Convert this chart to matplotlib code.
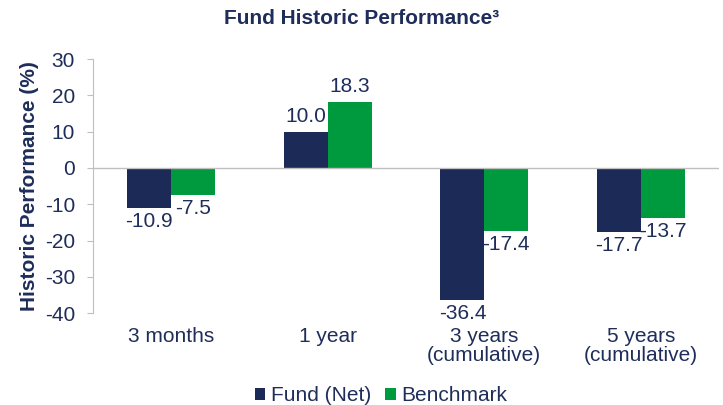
import numpy as np
import matplotlib.pyplot as plt

plt.rcParams['font.family'] = ['Liberation Sans', 'DejaVu Sans']

categories = ["3 months", "1 year", "3 years\n(cumulative)", "5 years\n(cumulative)"]
fund = [-10.9, 10.0, -36.4, -17.7]
benchmark = [-7.5, 18.3, -17.4, -13.7]
yticks = [30, 20, 10, 0, -10, -20, -30, -40]

NAVY = "#1B2A57"
GREEN = "#009A3E"
TXT = "#1F2D5A"
FS = 15

fig = plt.figure(figsize=(7.23, 4.05), dpi=100)
ax = fig.add_axes([0.1286, 0.227, 0.866, 0.627])

x = np.arange(len(categories))
w = 0.28
b1 = ax.bar(x - w / 2, fund, w, color=NAVY, label="Fund (Net)")
b2 = ax.bar(x + w / 2, benchmark, w, color=GREEN, label="Benchmark")

for bars, vals in ((b1, fund), (b2, benchmark)):
    for r, v in zip(bars, vals):
        off = 4 if v >= 0 else -3
        ax.annotate(f"{v:.1f}", (r.get_x() + r.get_width() / 2, v),
                    xytext=(0, off), textcoords="offset points",
                    ha="center", va="bottom" if v >= 0 else "top",
                    fontsize=FS, color=TXT)

ax.set_ylim(-40, 30)
ax.set_xlim(-0.5, len(categories) - 0.5)
ax.set_yticks(yticks)
ax.set_yticklabels([str(t) for t in yticks], fontsize=FS, color=TXT)
ax.axhline(0, color="#BFBFBF", lw=1)
ax.set_xticks(x)
ax.set_xticklabels(categories, fontsize=FS, color=TXT, linespacing=1.0)
ax.tick_params(axis="x", length=0, pad=10)
ax.tick_params(axis="y", color="#BFBFBF", length=4, pad=9)

for s in ("top", "right", "bottom"):
    ax.spines[s].set_visible(False)
ax.spines["left"].set_color("#BFBFBF")

ax.set_ylabel("Historic Performance (%)", fontsize=15, fontweight="bold", color=TXT, labelpad=4)
fig.text(0.5, 0.955, "Fund Historic Performance\u00b3", ha="center", va="center",
         fontsize=15, fontweight="bold", color=TXT)

ax.legend(loc="center", bbox_to_anchor=(0.46, -0.325), ncol=2, frameon=False,
          fontsize=FS, handlelength=0.5, handleheight=0.5, handletextpad=0.25,
          columnspacing=0.7, labelcolor=TXT, borderaxespad=0)

fig.savefig("out.png", dpi=100)
